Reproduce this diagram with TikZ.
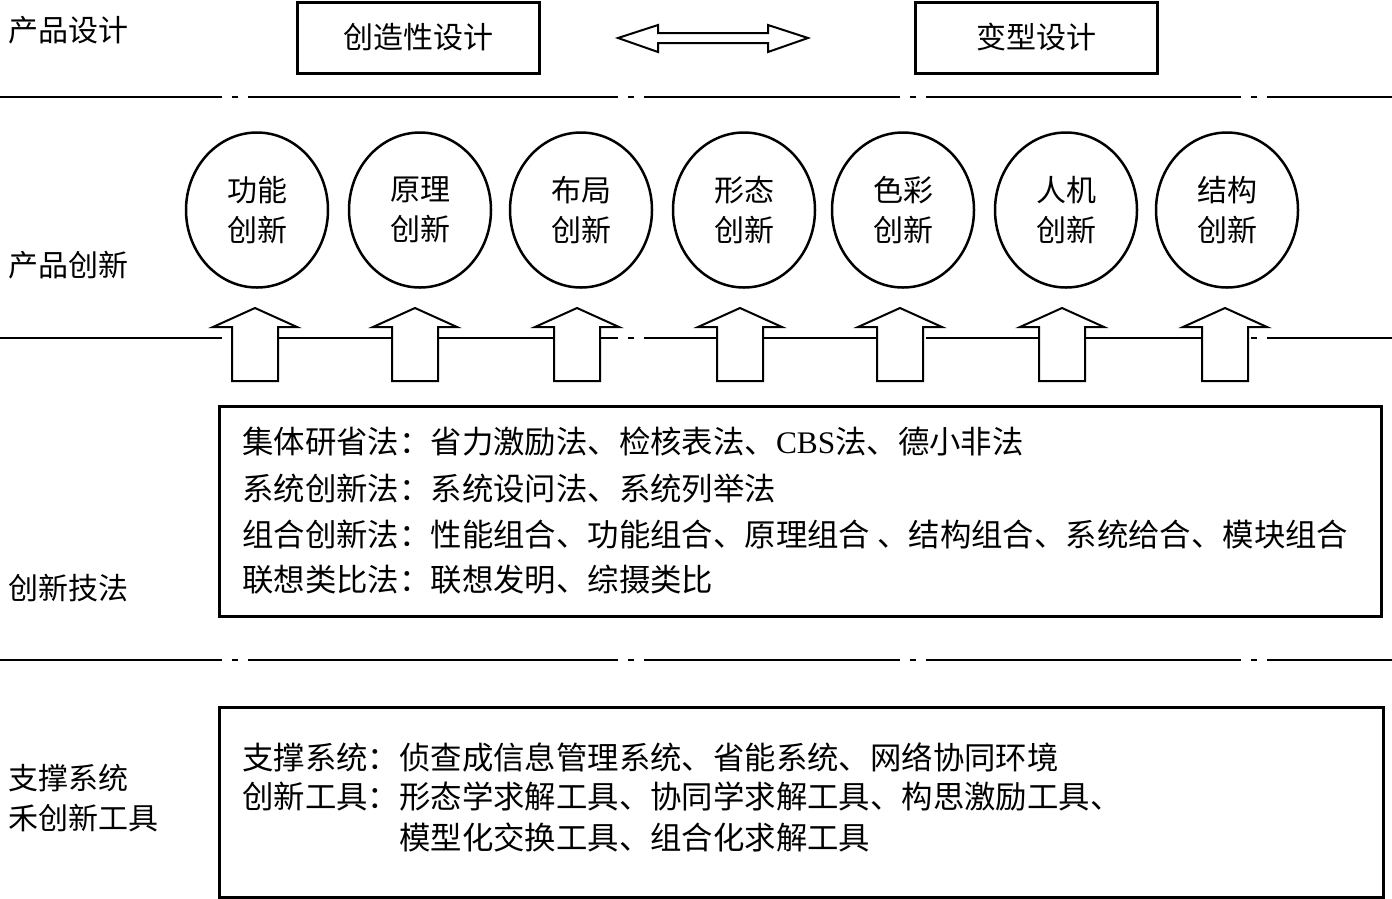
\documentclass[tikz,border=0pt]{standalone}
\usepackage{fontspec}
\setmainfont{Noto Sans CJK SC}
\newfontfamily\latfont{Liberation Serif}
\usetikzlibrary{shapes.geometric,calc}
\begin{document}
\begin{tikzpicture}[x=1pt,y=-1pt,
  sepline/.style={line width=2pt},
  lbl/.style={anchor=west,inner sep=0pt,font=\fontsize{30}{36}\selectfont},
  txt/.style={anchor=west,inner sep=0pt,font=\fontsize{31.4}{36}\selectfont},
  topbox/.style={draw,line width=3pt,minimum width=242pt,minimum height=71pt,inner sep=0pt,font=\fontsize{30}{36}\selectfont},
  ell/.style={draw,ellipse,line width=2.5pt,minimum width=142pt,minimum height=155pt,inner sep=0pt,align=center,font=\fontsize{30}{40}\selectfont},
  bigbox/.style={draw,line width=2.8pt,anchor=north west,inner sep=0pt},
  blockarrow/.style={draw,fill=white,line width=2pt,line join=miter},
]
\useasboundingbox (0,0) rectangle (1392,898);
% separator lines with dash-dot gaps
\foreach \yy in {97,338,660}{
  \draw[sepline] (0,\yy) -- (222,\yy) (232,\yy) -- (238,\yy) (248,\yy) -- (618,\yy)
    (628,\yy) -- (634,\yy) (644,\yy) -- (900,\yy) (910,\yy) -- (916,\yy)
    (926,\yy) -- (1241,\yy) (1251,\yy) -- (1257,\yy) (1267,\yy) -- (1392,\yy);
}
% left labels
\node[lbl] (l1) at (8,30) {产品设计};
\node[lbl] (l2) at (8,265) {产品创新};
\node[lbl] (l3) at (8,588) {创新技法};
\node[lbl] (l4) at (8,778) {支撑系统};
\node[lbl] (l5) at (8,818) {禾创新工具};
% top boxes
\node[topbox] (cz) at (418,37.5) {创造性设计};
\node[topbox] (bx) at (1036,37.5) {变型设计};
\coordinate (dl) at (618,38);
\coordinate (dr) at (808,38);
\draw[blockarrow] (dl) -- ($(dl)+(40,-13)$) -- ($(dl)+(40,-5)$) -- ($(dr)+(-40,-5)$) -- ($(dr)+(-40,-13)$)
  -- (dr) -- ($(dr)+(-40,14)$) -- ($(dr)+(-40,5)$) -- ($(dl)+(40,5)$) -- ($(dl)+(40,14)$) -- cycle;
% ellipses
\node[ell] (e1) at (257,210) {功能\\创新};
\node[ell] (e2) at (420,210) {原理\\创新};
\node[ell] (e3) at (581,210) {布局\\创新};
\node[ell] (e4) at (744,210) {形态\\创新};
\node[ell] (e5) at (903,210) {色彩\\创新};
\node[ell] (e6) at (1066,210) {人机\\创新};
\node[ell] (e7) at (1227,210) {结构\\创新};
% up block arrows
\foreach \cx in {255,415,577,740,900,1062,1225}{
  \draw[blockarrow] ({\cx-23},381) -- ({\cx+23},381) -- ({\cx+23},327) -- ({\cx+42},327)
    -- (\cx,308) -- ({\cx-42},327) -- ({\cx-23},327) -- cycle;
}
% methods box
\node[bigbox,minimum width=1162pt,minimum height=210pt] (mb) at (218,405) {};
\node[txt] (m1) at (242,442) {集体研省法：省力激励法、检核表法、{\latfont CBS}法、德小非法};
\node[txt] (m2) at (242,489) {系统创新法：系统设问法、系统列举法};
\node[txt] (m3) at (242,535) {组合创新法：性能组合、功能组合、原理组合 、结构组合、系统给合、模块组合};
\node[txt] (m4) at (242,580) {联想类比法：联想发明、综摄类比};
% support box
\node[bigbox,minimum width=1164pt,minimum height=190pt] (sb) at (218,706) {};
\node[txt] (s1) at (242,757) {支撑系统：侦查成信息管理系统、省能系统、网络协同环境};
\node[txt] (s2) at (242,797) {创新工具：形态学求解工具、协同学求解工具、构思激励工具、};
\node[txt] (s3) at (399,837) {模型化交换工具、组合化求解工具};
\end{tikzpicture}
\end{document}
